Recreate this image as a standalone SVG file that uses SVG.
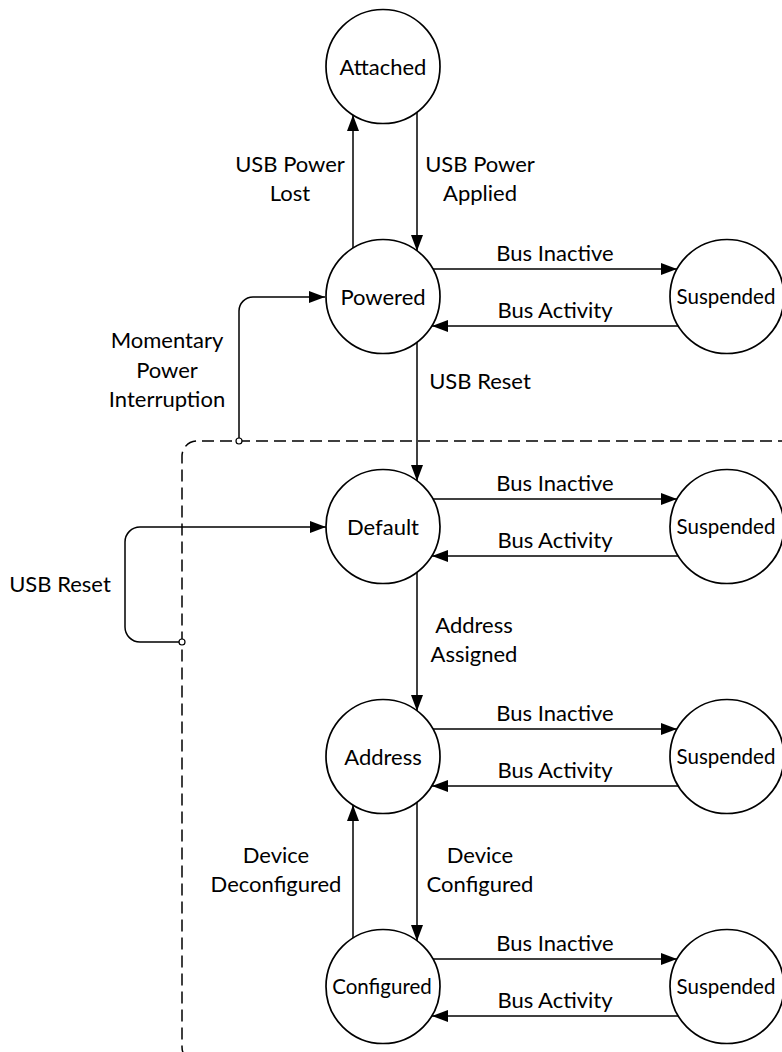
<svg xmlns="http://www.w3.org/2000/svg" width="782" height="1052" viewBox="0 0 782 1052">
<defs>
<style>
.st{fill:#fff;stroke:#000;stroke-width:1.7}
.ln{fill:none;stroke:#000;stroke-width:1.5}
.arr{marker-end:url(#ah)}
.dash{fill:none;stroke:#000;stroke-width:1.5;stroke-dasharray:12 6}
.jn{fill:#fff;stroke:#000;stroke-width:1.2}
text{font-family:Lato,"Liberation Sans",sans-serif;font-size:22px;fill:#000;text-anchor:middle}
.sm{font-size:20.5px}
</style>
<marker id="ah" markerUnits="userSpaceOnUse" markerWidth="16" markerHeight="12" refX="16" refY="6" orient="auto">
<path d="M0,0 L16,6 L0,12 z" fill="#000"/>
</marker>
</defs>
<rect width="782" height="1052" fill="#fff"/>

<g id="boundary">
<path class="dash" d="M790 441 H197 A15 15 0 0 0 182 456 V1047 A15 15 0 0 0 197 1062 H790"/>
</g>

<g id="connectors">
<!-- Attached / Powered -->
<line class="ln arr" x1="353" y1="248" x2="353" y2="115"/>
<line class="ln arr" x1="417" y1="112" x2="417" y2="251"/>
<!-- Powered / Suspended -->
<line class="ln arr" x1="433" y1="269" x2="677" y2="269"/>
<line class="ln arr" x1="678" y1="326" x2="432" y2="326"/>
<!-- Momentary power interruption -->
<path class="ln arr" d="M239 440 V311 A14 14 0 0 1 253 297 H325"/>
<!-- Powered -> Default -->
<line class="ln arr" x1="417" y1="342" x2="417" y2="481"/>
<!-- Default / Suspended -->
<line class="ln arr" x1="433" y1="499" x2="677" y2="499"/>
<line class="ln arr" x1="678" y1="556" x2="432" y2="556"/>
<!-- USB Reset loop -->
<path class="ln arr" d="M181 642 H140 A15 15 0 0 1 125 627 V542 A15 15 0 0 1 140 527 H326"/>
<!-- Default -> Address -->
<line class="ln arr" x1="417" y1="572" x2="417" y2="711"/>
<!-- Address / Suspended -->
<line class="ln arr" x1="433" y1="729" x2="677" y2="729"/>
<line class="ln arr" x1="678" y1="786" x2="432" y2="786"/>
<!-- Address / Configured -->
<line class="ln arr" x1="417" y1="802" x2="417" y2="941"/>
<line class="ln arr" x1="353" y1="938" x2="353" y2="805"/>
<!-- Configured / Suspended -->
<line class="ln arr" x1="433" y1="959" x2="677" y2="959"/>
<line class="ln arr" x1="678" y1="1016" x2="432" y2="1016"/>
<!-- junctions -->
<circle class="jn" cx="239" cy="441" r="3"/>
<circle class="jn" cx="182" cy="642" r="3"/>

<!-- labels -->
<text x="290" y="172">USB Power</text>
<text x="290" y="201">Lost</text>
<text x="480" y="172">USB Power</text>
<text x="480" y="201">Applied</text>
<text x="555" y="261">Bus Inactive</text>
<text x="555" y="318">Bus Activity</text>
<text x="167" y="348">Momentary</text>
<text x="167" y="378">Power</text>
<text x="167" y="407">Interruption</text>
<text x="480" y="389">USB Reset</text>
<text x="555" y="491">Bus Inactive</text>
<text x="555" y="548">Bus Activity</text>
<text x="60" y="592">USB Reset</text>
<text x="474" y="633">Address</text>
<text x="474" y="662">Assigned</text>
<text x="555" y="721">Bus Inactive</text>
<text x="555" y="778">Bus Activity</text>
<text x="276" y="863">Device</text>
<text x="276" y="892">Deconfigured</text>
<text x="480" y="863">Device</text>
<text x="480" y="892">Configured</text>
<text x="555" y="951">Bus Inactive</text>
<text x="555" y="1008">Bus Activity</text>
</g>

<g id="attached"><circle class="st" cx="383" cy="66.5" r="57"/><text x="383" y="74.5">Attached</text></g>
<g id="powered"><circle class="st" cx="383" cy="296.5" r="57"/><text x="383" y="304.5">Powered</text></g>
<g id="suspended1"><circle class="st" cx="727" cy="296.5" r="57"/><text class="sm" x="726" y="304">Suspended</text></g>
<g id="default"><circle class="st" cx="383" cy="526.5" r="57"/><text x="383" y="534.5">Default</text></g>
<g id="suspended2"><circle class="st" cx="727" cy="526.5" r="57"/><text class="sm" x="726" y="534">Suspended</text></g>
<g id="address"><circle class="st" cx="383" cy="756.5" r="57"/><text x="383" y="764.5">Address</text></g>
<g id="suspended3"><circle class="st" cx="727" cy="756.5" r="57"/><text class="sm" x="726" y="764">Suspended</text></g>
<g id="configured"><circle class="st" cx="383" cy="986.5" r="57"/><text class="sm" x="382" y="994">Configured</text></g>
<g id="suspended4"><circle class="st" cx="727" cy="986.5" r="57"/><text class="sm" x="726" y="994">Suspended</text></g>
</svg>
